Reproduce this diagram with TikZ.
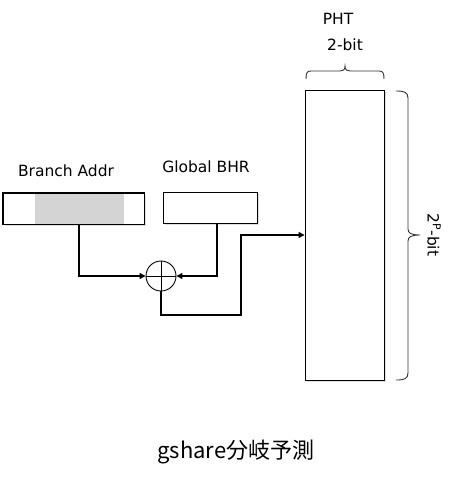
\documentclass[tikz,border=0pt]{standalone}
\usepackage{fontspec}
\setmainfont{DejaVu Sans}
\newfontfamily\cjk{Noto Sans CJK JP}
\usetikzlibrary{arrows.meta,shadows}
\begin{document}
\begin{tikzpicture}[x=1pt,y=-1pt,
  reg/.style={draw,line width=0.9pt,fill=white,inner sep=0pt,drop shadow={shadow xshift=1.5pt,shadow yshift=-1.5pt,opacity=0.25}},
  wire/.style={line width=1.3pt},
  arr/.style={wire,-{Triangle[length=6pt,width=6pt]}},
  lbl/.style={font=\fontsize{15.5}{18}\selectfont,inner sep=0pt},
  br/.style={line width=0.9pt,black!80}]
\useasboundingbox (0,0) rectangle (455,485);
% registers
\node[reg,minimum width=141pt,minimum height=31pt] (ba) at (73.5,208.5) {};
\fill[black!17] (35,193.5) rectangle (124,223.5);
\draw[line width=0.9pt] (ba.north west) rectangle (ba.south east);
\node[reg,minimum width=94pt,minimum height=31pt] (bhr) at (210,208) {};
\node[lbl] (lba) at (66,171) {Branch Addr};
\node[lbl] (lbhr) at (206,167) {Global BHR};
% xor
\node[draw,circle,line width=0.9pt,minimum size=30pt,inner sep=0pt,fill=white] (x) at (161,276) {};
\draw[line width=0.9pt] (x.north) -- (x.south) (x.west) -- (x.east);
% PHT
\node[reg,minimum width=79pt,minimum height=290pt] (pht) at (344.5,235) {};
\node[lbl] (lpht) at (338,19) {PHT};
\node[lbl] (l2b) at (345,45) {2-bit};
% top brace
\draw[br] (306,79) .. controls (306,73) and (307,71) .. (311,71) -- (340,71)
  .. controls (343,71) and (345,70) .. (345,66)
  .. controls (345,70) and (347,71) .. (350,71) -- (379,71)
  .. controls (383,71) and (384,73) .. (384,79);
% right brace
\draw[br] (396,91) .. controls (404,91) and (408,92) .. (408,98) -- (408,229)
  .. controls (408,233) and (411,235) .. (420,235)
  .. controls (411,235) and (408,237) .. (408,241) -- (408,373)
  .. controls (408,379) and (404,380) .. (396,380);
\node[lbl,rotate=-90] (l2p) at (434,235) {2\textsuperscript{P}-bit};
% wires
\coordinate (c1) at (79,276);
\draw[arr] (79,224) -- (c1) -- (x.west);
\draw[arr] (217,223) -- (217,276) -- (x.east);
\draw[arr] (x.south) |- (241,315) -- (241,235) -- (pht.west |- 0,235);
% title
\node[inner sep=0pt,font=\cjk\fontsize{22}{24}\selectfont] (t) at (236,452) {gshare分岐予測};
\end{tikzpicture}
\end{document}
